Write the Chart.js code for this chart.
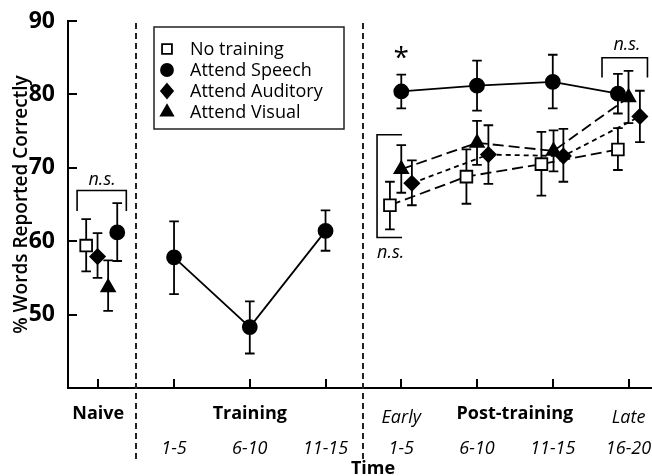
<!DOCTYPE html>
<html><head><meta charset="utf-8">
<script src="https://cdn.jsdelivr.net/npm/chart.js@4.4.1/dist/chart.umd.min.js"></script>
<style>html,body{margin:0;padding:0;background:#fff;}#wrap{width:652px;height:476px;position:relative;}</style>
</head><body><div id="wrap"><canvas id="c"></canvas></div>
<script>
// ---- data ----
const categories = ['Naive','1-5','6-10','11-15','1-5','6-10','11-15','16-20'];
const phases = ['naive','training','training','training','post','post','post','post'];
const groupLabels = ['Naive','Training','Post-training'];
const groupCenters = [0, 2, 5.5];          // category index at which each group title sits
const subLabels = ['Early','Late'];
const subLabelAt = [4, 7];
const yTicks = [50, 60, 70, 80, 90];

const noTraining   = [59.4, null, null, null, 64.9, 68.8, 70.5, 72.5];
const noTrainingHi = [63.0, null, null, null, 68.1, 72.5, 74.9, 75.4];
const noTrainingLo = [55.9, null, null, null, 61.6, 65.1, 66.2, 69.7];
const noTrainingOff= [-0.16, 0, 0, 0, -0.15, -0.14, -0.15, -0.14];

const speech   = [61.2, 57.8, 48.3, 61.4, 80.4, 81.2, 81.7, 80.1];
const speechHi = [65.2, 62.7, 51.8, 64.2, 82.7, 84.6, 85.4, 82.8];
const speechLo = [57.3, 52.8, 44.7, 58.7, 78.1, 77.8, 78.1, 77.4];
const speechOff= [0.25, 0, 0, 0, 0, 0, 0, -0.14];

const auditory   = [57.9, null, null, null, 67.9, 71.8, 71.6, 77.0];
const auditoryHi = [61.1, null, null, null, 71.0, 75.8, 75.3, 80.5];
const auditoryLo = [55.0, null, null, null, 64.9, 67.8, 68.1, 73.5];
const auditoryOff= [-0.01, 0, 0, 0, 0.14, 0.15, 0.14, 0.15];

const visual   = [53.7, null, null, null, 69.8, 73.4, 72.3, 79.6];
const visualHi = [57.4, null, null, null, 73.1, 76.4, 75.1, 83.2];
const visualLo = [50.5, null, null, null, 66.6, 70.4, 69.5, 76.1];
const visualOff= [0.13, 0, 0, 0, 0, 0, 0.01, 0];

const seriesNames = ['No training','Attend Speech','Attend Auditory','Attend Visual'];

// ---- build ----
const FONT = "'Open Sans', 'DejaVu Sans', sans-serif";
const series = [
  {name: seriesNames[0], v: noTraining, hi: noTrainingHi, lo: noTrainingLo, off: noTrainingOff, style:'rect', r:8.3, fill:'#fff', dash:[11,5], order:3},
  {name: seriesNames[1], v: speech, hi: speechHi, lo: speechLo, off: speechOff, style:'circle', r:7, fill:'#000', dash:[], order:1},
  {name: seriesNames[2], v: auditory, hi: auditoryHi, lo: auditoryLo, off: auditoryOff, style:'rectRot', r:7.3, fill:'#000', dash:[5,4], order:2},
  {name: seriesNames[3], v: visual, hi: visualHi, lo: visualLo, off: visualOff, style:'triangle', r:7.8, fill:'#000', dash:[11,5], order:0}
];

const datasets = series.map(s => ({
  label: s.name,
  data: s.v.map((v, i) => ({x: i + s.off[i], y: v})),
  borderColor: '#000',
  borderWidth: 1.8,
  borderDash: s.dash,
  pointStyle: s.style,
  pointRadius: s.r,
  pointHoverRadius: s.r,
  pointBackgroundColor: s.fill,
  pointBorderColor: '#000',
  pointBorderWidth: 1.8,
  spanGaps: false,
  tension: 0,
  clip: false,
  order: s.order,
  segment: {
    borderColor: ctx => phases[ctx.p0DataIndex] !== phases[ctx.p1DataIndex] ? 'rgba(0,0,0,0)' : '#000'
  }
}));

const errorBars = {
  id: 'errorBars',
  beforeDatasetsDraw(chart) {
    const {ctx, scales: {x, y}} = chart;
    ctx.save();
    ctx.strokeStyle = '#000';
    ctx.lineWidth = 1.8;
    ctx.setLineDash([]);
    series.forEach(s => {
      s.v.forEach((v, i) => {
        if (v == null) return;
        const px = x.getPixelForValue(i + s.off[i]);
        const t = y.getPixelForValue(s.hi[i]);
        const b = y.getPixelForValue(s.lo[i]);
        ctx.beginPath();
        ctx.moveTo(px, t); ctx.lineTo(px, b);
        ctx.moveTo(px - 4.8, t); ctx.lineTo(px + 4.8, t);
        ctx.moveTo(px - 4.8, b); ctx.lineTo(px + 4.8, b);
        ctx.stroke();
      });
    });
    ctx.restore();
  }
};

function marker(ctx, style, x, y, r, fill) {
  ctx.save();
  ctx.fillStyle = fill; ctx.strokeStyle = '#000'; ctx.lineWidth = 1.8;
  ctx.beginPath();
  if (style === 'circle') ctx.arc(x, y, r, 0, Math.PI * 2);
  else if (style === 'rect') { const h = r * Math.SQRT1_2; ctx.rect(x - h, y - h, 2 * h, 2 * h); }
  else if (style === 'rectRot') { ctx.moveTo(x, y - r); ctx.lineTo(x + r * 0.85, y); ctx.lineTo(x, y + r); ctx.lineTo(x - r * 0.85, y); ctx.closePath(); }
  else if (style === 'triangle') { ctx.moveTo(x, y - r); ctx.lineTo(x + r * 0.866, y + r / 2); ctx.lineTo(x - r * 0.866, y + r / 2); ctx.closePath(); }
  ctx.fill(); ctx.stroke();
  ctx.restore();
}

const overlay = {
  id: 'overlay',
  afterDraw(chart) {
    const {ctx, chartArea: a, scales: {x, y}} = chart;
    ctx.save();
    ctx.strokeStyle = '#000';
    ctx.lineWidth = 2;
    // inward tick marks
    yTicks.forEach(v => {
      const py = Math.round(y.getPixelForValue(v));
      ctx.beginPath(); ctx.moveTo(a.left, py); ctx.lineTo(a.left + 9, py); ctx.stroke();
    });
    categories.forEach((c, i) => {
      const px = Math.round(x.getPixelForValue(i));
      ctx.beginPath(); ctx.moveTo(px, a.bottom); ctx.lineTo(px, a.bottom - 9); ctx.stroke();
    });
    // phase dividers
    ctx.strokeStyle = '#222';
    ctx.setLineDash([6, 4]);
    for (let i = 0; i < phases.length - 1; i++) {
      if (phases[i] !== phases[i + 1]) {
        const px = Math.round(x.getPixelForValue(i + 0.5));
        ctx.beginPath(); ctx.moveTo(px, a.top + 2); ctx.lineTo(px, a.bottom + 72); ctx.stroke();
      }
    }
    ctx.setLineDash([]);
    ctx.fillStyle = '#000';
    // group labels
    ctx.textAlign = 'center';
    ctx.textBaseline = 'alphabetic';
    ctx.font = `bold 18px ${FONT}`;
    groupLabels.forEach((g, i) => ctx.fillText(g, x.getPixelForValue(groupCenters[i]), a.bottom + 31));
    ctx.font = `italic 18px ${FONT}`;
    subLabels.forEach((g, i) => ctx.fillText(g, x.getPixelForValue(subLabelAt[i]), a.bottom + 35));
    categories.forEach((c, i) => {
      if (phases[i] === 'naive') return;
      ctx.fillText(c, x.getPixelForValue(i), a.bottom + 66);
    });
    ctx.font = `bold 18px ${FONT}`;
    ctx.fillText('Time', (a.left + a.right) / 2 + 13, a.bottom + 86);

    // legend
    const lx = 154, ly = 27, lw = 190, lh = 102;
    ctx.lineWidth = 1.5;
    ctx.strokeRect(lx, ly, lw, lh);
    ctx.font = `18px ${FONT}`;
    ctx.textAlign = 'left';
    ctx.textBaseline = 'middle';
    series.forEach((s, i) => {
      const ry = ly + 22 + i * 21;
      const rr = s.style === 'rect' ? 7 : (s.style === 'circle' ? 6 : 7);
      marker(ctx, s.style, lx + 13, ry, rr, s.fill);
      ctx.fillStyle = '#000';
      ctx.fillText(s.name, lx + 36, ry + 1);
    });

    // significance annotations
    ctx.lineWidth = 1.6;
    ctx.strokeStyle = '#000';
    const P = (ix, v) => [x.getPixelForValue(ix), y.getPixelForValue(v)];
    function bracketDown(x0, x1, vTop, vLeg) {
      const [ax, ay] = P(x0, vTop), [bx] = P(x1, vTop), [, ly2] = P(x0, vLeg);
      ctx.beginPath(); ctx.moveTo(ax, ly2); ctx.lineTo(ax, ay); ctx.lineTo(bx, ay); ctx.lineTo(bx, ly2); ctx.stroke();
    }
    bracketDown(-0.28, 0.37, 66.9, 64.1);
    bracketDown(6.65, 7.25, 85.0, 82.3);
    {
      const [vx, ty] = P(3.68, 74.5), [hx, by] = P(4.01, 60.5);
      ctx.beginPath(); ctx.moveTo(hx, ty); ctx.lineTo(vx, ty); ctx.lineTo(vx, by); ctx.lineTo(hx, by); ctx.stroke();
    }
    ctx.font = `italic 18px ${FONT}`;
    ctx.textAlign = 'center';
    ctx.textBaseline = 'middle';
    let p = P(0.05, 68.4); ctx.fillText('n.s.', p[0], p[1]);
    p = P(3.86, 58.4); ctx.fillText('n.s.', p[0], p[1]);
    p = P(6.98, 86.7); ctx.fillText('n.s.', p[0], p[1]);
    ctx.font = `28px ${FONT}`;
    p = P(4.0, 85.6); ctx.fillText('*', p[0], p[1] + 6);
    ctx.restore();
  }
};

new Chart(document.getElementById('c'), {
  type: 'line',
  data: {datasets},
  options: {
    responsive: true,
    maintainAspectRatio: false,
    animation: false,
    devicePixelRatio: 1,
    layout: {padding: {left: 8, top: 21, right: 0, bottom: 0}, autoPadding: false},
    plugins: {legend: {display: false}, tooltip: {enabled: false}},
    scales: {
      x: {
        type: 'linear', min: -0.4, max: 7.31,
        ticks: {display: false},
        grid: {display: false},
        border: {display: true, color: '#000', width: 2},
        afterFit: s => { s.height = 88; }
      },
      y: {
        min: 40, max: 90,
        afterBuildTicks: s => { s.ticks = yTicks.map(v => ({value: v})); },
        ticks: {font: {family: FONT, weight: 'bold', size: 23}, color: '#000', padding: 5},
        grid: {display: false},
        border: {display: true, color: '#000', width: 2},
        title: {display: true, text: '% Words Reported Correctly', color: '#000',
                font: {family: FONT, weight: '600', size: 19}, padding: {top: 2, bottom: 4}},
        afterFit: s => { s.width = 60; }
      }
    }
  },
  plugins: [errorBars, overlay]
});
</script></body></html>
